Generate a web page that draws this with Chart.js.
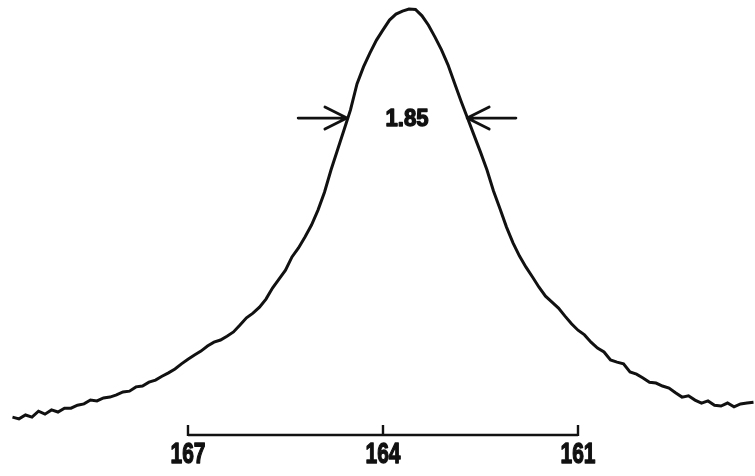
<!DOCTYPE html>
<html>
<head>
<meta charset="utf-8">
<script src="https://cdn.jsdelivr.net/npm/chart.js@4/dist/chart.umd.min.js"></script>
<style>
  html, body { margin: 0; padding: 0; background: #fff; }
  #wrap { width: 755px; height: 476px; position: relative; }
</style>
</head>
<body>
<div id="wrap"><canvas id="specChart"></canvas></div>
<script>
// chemical shift (ppm), read left to right on the trace
const shifts = [
  169.7, 169.6, 169.5, 169.4, 169.3, 169.2, 169.1, 169.0, 168.9, 168.8,
  168.7, 168.6, 168.5, 168.4, 168.3, 168.2, 168.1, 168.0, 167.9, 167.8,
  167.7, 167.6, 167.5, 167.4, 167.3, 167.2, 167.1, 167.0, 166.9, 166.8,
  166.7, 166.6, 166.5, 166.4, 166.3, 166.2, 166.1, 166.0, 165.9, 165.8,
  165.7, 165.6, 165.5, 165.4, 165.3, 165.2, 165.1, 165.0, 164.9, 164.8,
  164.7, 164.6, 164.5, 164.4, 164.3, 164.2, 164.1, 164.0, 163.9, 163.8,
  163.7, 163.6, 163.5, 163.4, 163.3, 163.2, 163.1, 163.0, 162.9, 162.8,
  162.7, 162.6, 162.5, 162.4, 162.3, 162.2, 162.1, 162.0, 161.9, 161.8,
  161.7, 161.6, 161.5, 161.4, 161.3, 161.2, 161.1, 161.0, 160.9, 160.8,
  160.7, 160.6, 160.5, 160.4, 160.3, 160.2, 160.1, 160.0, 159.9, 159.8,
  159.7, 159.6, 159.5, 159.4, 159.3, 159.2, 159.1, 159.0, 158.9, 158.8,
  158.7, 158.6, 158.5, 158.4, 158.3
];

// relative intensity, peak = 100
const intensity = [
  4.2, 3.8, 4.7, 4.2, 5.6, 4.9, 5.9, 5.4, 6.3, 6.3,
  7.0, 7.3, 8.2, 8.0, 8.7, 8.9, 9.4, 10.1, 10.3, 11.3,
  11.5, 12.4, 12.9, 13.8, 14.6, 15.5, 16.7, 17.8, 18.8, 19.7,
  20.9, 21.8, 22.3, 23.2, 24.2, 25.8, 27.5, 28.6, 30.0, 31.9,
  34.5, 36.6, 38.7, 41.8, 43.9, 46.5, 49.3, 52.8, 57.0, 62.2,
  66.9, 71.6, 76.3, 82.4, 86.4, 89.7, 92.7, 95.1, 97.4, 98.8,
  99.5, 100.0, 99.9, 98.4, 96.2, 93.4, 90.4, 86.9, 82.6, 78.4,
  74.4, 70.4, 66.4, 62.2, 57.3, 53.1, 48.8, 45.1, 42.0, 39.4,
  37.1, 34.7, 32.6, 31.2, 29.8, 27.9, 26.1, 24.6, 23.5, 21.8,
  20.4, 19.5, 17.6, 17.1, 16.7, 14.8, 14.3, 13.4, 12.4, 12.2,
  11.5, 11.0, 9.9, 8.9, 9.2, 8.2, 7.5, 8.0, 7.0, 6.8,
  7.5, 6.6, 7.3, 7.5, 7.7
];

// scale bar under the trace
const tickValues = [167, 164, 161];
const tickLabels = ["167", "164", "161"];

// line width marked between the arrows
const widthLabel = "1.85";
const widthValue = 1.85;
const widthCenter = 163.63;
const widthLevel = 74.4;
const arrowLength = 0.75;

const labelFont = "'Liberation Sans', Arial, sans-serif";

// stencil-style lettering is narrow and heavy: squeeze the glyphs and thicken the strokes
function drawNarrowText(ctx, text, px, py, size, squeeze) {
  ctx.save();
  ctx.translate(px, py);
  ctx.scale(squeeze, 1);
  ctx.font = "bold " + size + "px " + labelFont;
  ctx.textAlign = "center";
  ctx.textBaseline = "middle";
  ctx.lineWidth = 1.4;
  ctx.lineJoin = "round";
  ctx.fillText(text, 0, 0);
  ctx.strokeText(text, 0, 0);
  ctx.restore();
}

// draws the ppm scale bar with its three ticks and numbers
const scaleBar = {
  id: "scaleBar",
  afterDraw(chart) {
    const { ctx, scales: { x, y } } = chart;
    const left = x.getPixelForValue(tickValues[0]);
    const right = x.getPixelForValue(tickValues[tickValues.length - 1]);
    const base = y.getPixelForValue(0);
    ctx.save();
    ctx.strokeStyle = "#111";
    ctx.lineWidth = 2.4;
    ctx.beginPath();
    ctx.moveTo(left, base);
    ctx.lineTo(right, base);
    tickValues.forEach(v => {
      const px = x.getPixelForValue(v);
      ctx.moveTo(px, base + 1);
      ctx.lineTo(px, base - 10);
    });
    ctx.stroke();
    ctx.fillStyle = "#111";
    tickValues.forEach((v, i) => {
      drawNarrowText(ctx, tickLabels[i], x.getPixelForValue(v), base + 20, 30, 0.7);
    });
    ctx.restore();
  }
};

// arrows pointing in at the measured width, with the value between them
const widthMarker = {
  id: "widthMarker",
  afterDraw(chart) {
    const { ctx, scales: { x, y } } = chart;
    const py = y.getPixelForValue(widthLevel);
    const tipL = x.getPixelForValue(widthCenter + widthValue / 2);
    const tipR = x.getPixelForValue(widthCenter - widthValue / 2);
    const tailL = x.getPixelForValue(widthCenter + widthValue / 2 + arrowLength);
    const tailR = x.getPixelForValue(widthCenter - widthValue / 2 - arrowLength);
    ctx.save();
    ctx.strokeStyle = "#111";
    ctx.lineWidth = 2.8;
    ctx.lineCap = "round";
    ctx.lineJoin = "round";
    ctx.beginPath();
    ctx.moveTo(tailL, py);
    ctx.lineTo(tipL, py);
    ctx.moveTo(tipL - 22, py - 11);
    ctx.lineTo(tipL, py);
    ctx.lineTo(tipL - 22, py + 11);
    ctx.moveTo(tailR, py);
    ctx.lineTo(tipR, py);
    ctx.moveTo(tipR + 22, py - 11);
    ctx.lineTo(tipR, py);
    ctx.lineTo(tipR + 22, py + 11);
    ctx.stroke();
    ctx.fillStyle = "#111";
    drawNarrowText(ctx, widthLabel, x.getPixelForValue(widthCenter), py + 1, 24, 0.92);
    ctx.restore();
  }
};

const ctx = document.getElementById("specChart").getContext("2d");
const chart = new Chart(ctx, {
  type: "line",
  data: {
    datasets: [
      {
        label: "Intensity",
        data: shifts.map((s, i) => ({ x: s, y: intensity[i] })),
        borderColor: "#111",
        borderWidth: 3,
        pointRadius: 0,
        tension: 0,
        fill: false,
        clip: false,
      },
    ],
  },
  options: {
    responsive: true,
    maintainAspectRatio: false,
    animation: false,
    layout: { padding: 0 },
    plugins: {
      legend: { display: false },
      tooltip: { enabled: false },
    },
    scales: {
      x: {
        type: "linear",
        reverse: true,
        min: 158.277,
        max: 169.892,
        display: false,
      },
      y: {
        min: -9.62,
        max: 102.11,
        display: false,
      },
    },
  },
  plugins: [scaleBar, widthMarker],
});
</script>
</body>
</html>
